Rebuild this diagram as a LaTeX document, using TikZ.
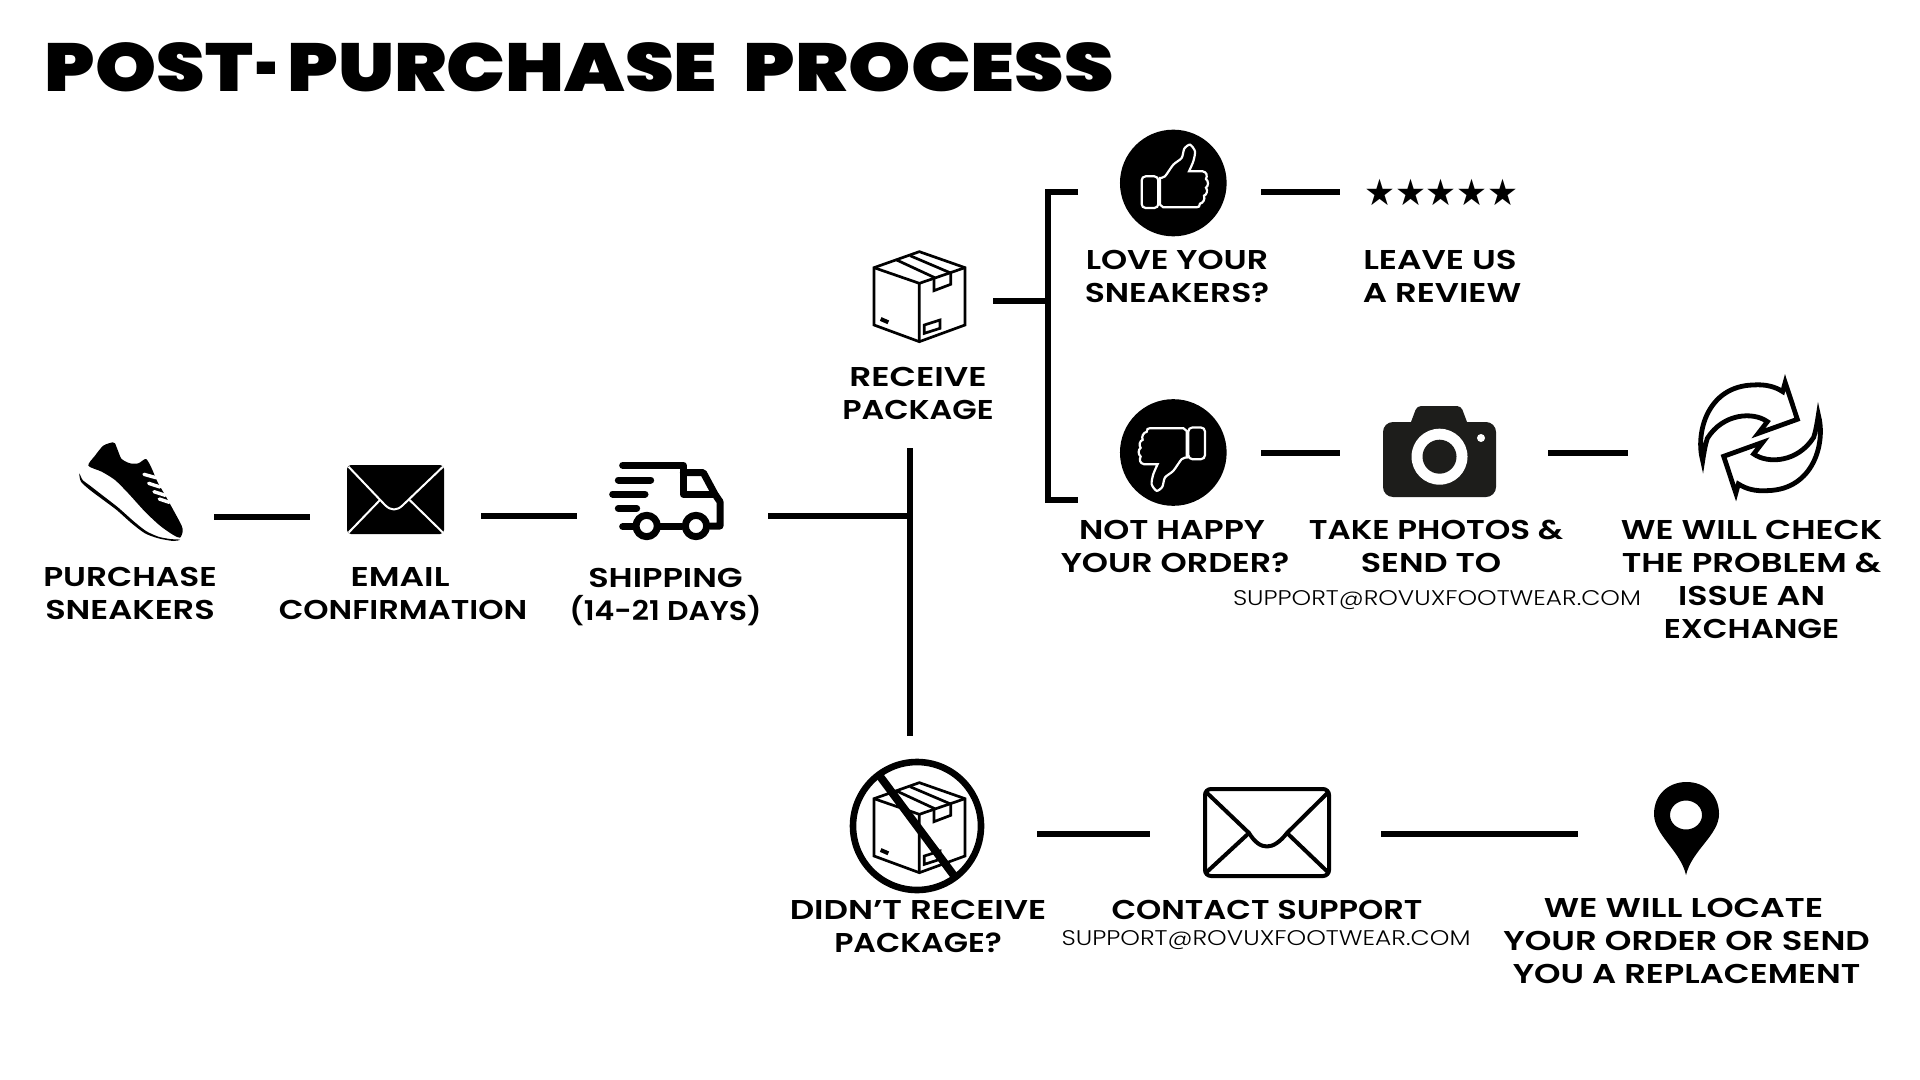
\documentclass[tikz,border=0pt]{standalone}
\usepackage{graphicx}
\usepackage{fontspec}
\setmainfont{Poppins}
\newfontfamily\labf{Poppins SemiBold}
\newfontfamily\thinf{Poppins Light}
\newfontfamily\titlef{Poppins Black}
\newfontfamily\symf{DejaVu Sans}
\definecolor{camink}{HTML}{1D1D1B}
% fit a line of text to a width in reference pixels (horizontal scaling only)
\newcommand\fw[2]{\sbox0{#2}\pgfmathsetmacro\fr{#1*0.5/(\the\wd0)}\scalebox{\fr}[1]{\usebox0}}
% the same for a label line: side bearings are added to the measured ink width
\newcommand\fl[2]{\sbox0{#2}\pgfmathsetmacro\fr{(#1+3.5)*0.5/(\the\wd0)}\scalebox{\fr}[1]{\usebox0}}
\newcommand\thumbshape{%
  \fill[black] (0,0) circle[radius=160];
  \draw[white,line width=1.1pt,rounded corners=2pt,fill=black] (-95,-20) rectangle (-45,75);
  \draw[white,line width=1.1pt,fill=black] plot[smooth,tension=.45] coordinates {(-40,-15) (-25,-20) (0,-55) (25,-75) (33,-103) (50,-115) (65,-95) (60,-65) (47,-35)}
    -- (88,-35) .. controls (100,-33) and (103,-22) .. (98,-12) .. controls (106,-5) and (106,8) .. (98,14) .. controls (104,22) and (101,35) .. (92,38) .. controls (96,48) and (90,60) .. (80,62) .. controls (80,70) and (76,73) .. (70,73) -- (-30,73) -- (-40,65) -- cycle;
}
\newcommand\boxshape{%
  \draw[boxline] (178,20) -- (315,68) -- (315,240) -- (178,290) -- (42,240) -- (42,68) -- cycle;
  \draw[boxline] (42,68) -- (178,115) -- (315,68) (178,115) -- (178,290);
  \draw[boxline] (110,45) -- (222,97) -- (222,137) -- (272,118) -- (272,84) -- (150,32);
  \draw[boxline,line width=2pt] (62,222) -- (85,232);
  \draw[boxline] (193,240) -- (240,225) -- (240,250) -- (193,265) -- cycle;
}
\newcommand\arrowshape{%
  \draw[black,line width=2.4pt,miter limit=8,fill=white] (-173.5,68.5) .. controls (-196,-14) and (-160,-155) .. (-21.5,-158.5)
    .. controls (14,-161) and (43,-154) .. (66.5,-138.5) -- (74,-166) -- (110.5,-55.5) -- (-6.5,-13.5) -- (20.5,-48.5)
    .. controls (-22,-79) and (-112,-74) .. (-159.5,1.5) .. controls (-166,21) and (-170,46) .. (-173.5,68.5) -- cycle;
}
\tikzset{
  x=0.5pt,y=-0.5pt,
  conn/.style={draw=black,line width=3pt},
  lab/.style={font=\labf\fontsize{13.6}{16.5}\selectfont,align=center,inner sep=0pt,anchor=base,text=black},
  thin/.style={font=\thinf\fontsize{10.6}{13}\selectfont,inner sep=0pt,anchor=base,text=black},
  boxline/.style={draw=black,line width=1.35pt,line join=miter},
  truck/.style={draw=black,line width=3.5pt,line cap=round,line join=round},
}
\begin{document}
\begin{tikzpicture}
\useasboundingbox (0,0) rectangle (1920,1080);
\fill[white] (0,0) rectangle (1920,1080);

% title
\node[anchor=base west,inner sep=0pt,font=\titlef\fontsize{34}{40}\selectfont,text=black] (title) at (44.5,91.5) {\fw{208}{POST}\hskip2pt\fw{22.5}{-}\hskip4pt\fw{430}{PURCHASE} \hskip7.5pt\fw{370}{PROCESS}};

% shoe
\begin{scope}[shift={(70,435)},scale=1/3]
\fill[black] plot[smooth cycle,tension=.45] coordinates {(128,22) (100,32) (75,62) (55,92) (95,110) (135,135) (175,175) (225,230) (270,272) (310,300) (330,308) (338,290) (335,272) (310,225) (285,180) (262,140) (245,100) (228,72) (205,85) (180,85) (155,72) (145,50) (135,25)};
\draw[white,line width=1.7pt,line cap=round] (222,118) -- (258,128) (236,145) -- (270,156) (252,170) -- (286,181) (268,192) -- (298,202);
\fill[black] plot[smooth cycle,tension=.45] coordinates {(28,115) (33,140) (60,165) (100,195) (140,225) (185,265) (225,295) (265,310) (310,318) (330,314) (300,312) (265,305) (228,288) (190,258) (145,218) (100,183) (60,152) (38,135)};
\end{scope}

% filled envelope
\fill[black,rounded corners=2pt] (347,465) rectangle (444,534);
\draw[white,line width=1pt,line join=round] (348.5,466.7) -- (385,505) .. controls (391,511) and (397,511) .. (403,505) -- (443,466.7);
\draw[white,line width=1pt] (348.5,532.7) -- (380,500) (443,532.7) -- (409.6,500);

% truck
\begin{scope}[shift={(600,450)},scale=1/3]
\draw[truck] (68,46) -- (250,46) -- (250,133) -- (345,133);
\draw[truck] (250,68) -- (310,68) -- (345,133) -- (360,155) -- (360,228) -- (330,228);
\draw[truck] (55,90) -- (152,90) (38,132) -- (135,132) (55,175) -- (110,175);
\draw[truck] (68,230) -- (100,230) (180,230) -- (245,230);
\draw[truck,fill=white] (140,228) circle[radius=32];
\draw[truck,fill=white] (288,228) circle[radius=32];
\end{scope}

% open box
\begin{scope}[shift={(860,245)},scale=1/3]\boxshape\end{scope}

% thumbs
\begin{scope}[shift={(1173.3,183)},scale=1/3]\thumbshape\end{scope}
\begin{scope}[shift={(1173.3,452.5)},scale=1/3,rotate=180]\thumbshape\end{scope}

% stars
\node[inner sep=0pt,anchor=base,font=\symf\fontsize{18.2}{20}\selectfont,text=black] (stars) at (1441.5,206) {\fw{155}{★★★★★}};

% camera
\fill[camink,rounded corners=5pt] (1383,422) rectangle (1496,497);
\fill[camink,rounded corners=2pt] (1408,430) -- (1417,406) -- (1461,406) -- (1470,430) -- cycle;
\fill[white] (1439.5,456.7) circle[radius=28];
\fill[camink] (1439.5,456.7) circle[radius=17];
\fill[white] (1481,438) circle[radius=4];

% rotating arrows
\begin{scope}[shift={(1760.5,437.8)},scale=1/3]\arrowshape\end{scope}
\begin{scope}[shift={(1760.5,437.8)},scale=1/3,rotate=180]\arrowshape\end{scope}

% crossed box
\draw[black,line width=3.3pt,fill=white] (917,826) circle[radius=64];
\begin{scope}[shift={(860,776)},scale=1/3]\boxshape\end{scope}
\draw[black,line width=4pt] (879,775) -- (955,877);

% outlined envelope
\draw[black,line width=2pt,rounded corners=3pt] (1205,789) rectangle (1329,876);
\draw[black,line width=2pt,line join=round] (1206,792) -- (1249,833) .. controls (1260,851) and (1273,851) .. (1287,833) -- (1328.5,792);
\draw[black,line width=2pt] (1206,872.7) -- (1249,833) (1328.5,872.7) -- (1287,833);

% pin
\fill[black,even odd rule] (1686,875) .. controls (1680,850) and (1654,835) .. (1654,814) .. controls (1654,795) and (1668,782) .. (1686.5,782) .. controls (1705,782) and (1719,795) .. (1719,814) .. controls (1719,835) and (1692,850) .. (1686,875) -- cycle
  (1686,815) ellipse[x radius=16,y radius=14.5];

% labels (anchored at the baseline of their last line)
\node[lab] (purchase) at (130,619) {\fl{170}{PURCHASE}\\\fl{166}{SNEAKERS}};
\node[lab] (email) at (403,619) {\fl{95.5}{EMAIL}\hspace*{3pt}\\\fl{245}{CONFIRMATION}};
\node[lab] (shipping) at (665.5,620) {\fl{151}{SHIPPING}\\\fl{189}{(14-21 DAYS)}};
\node[lab] (receive) at (918,419) {\fl{134}{RECEIVE}\\\fl{148}{PACKAGE}};
\node[lab] (love) at (1177,303) {\fl{179}{LOVE YOUR}\\\fl{181}{SNEAKERS?}};
\node[lab] (leave) at (1442,303) {\fl{150}{LEAVE US}\hspace*{2pt}\\\fl{155}{A REVIEW}};
\node[lab] (nothappy) at (1175,572) {\fl{182.5}{NOT HAPPY}\hspace*{3pt}\\\fl{225}{YOUR ORDER?}};
\node[lab] (photos) at (1436,572) {\fl{251}{TAKE PHOTOS \&}\\\fl{137}{SEND TO}\hspace*{5pt}};
\node[thin] (mail1) at (1437,605.7) {\fw{408}{SUPPORT@ROVUXFOOTWEAR.COM}};
\node[lab] (check) at (1751.5,638) {\fl{258}{WE WILL CHECK}\\\fl{256}{THE PROBLEM \&}\\\fl{143.5}{ISSUE AN}\\\fl{172}{EXCHANGE}};
\node[lab] (didnt) at (918,952) {\fl{253}{DIDN’T RECEIVE}\\\fl{164}{PACKAGE?}};
\node[lab] (contact) at (1267,919) {\fl{307.5}{CONTACT SUPPORT}};
\node[thin] (mail2) at (1266,945) {\fw{409}{SUPPORT@ROVUXFOOTWEAR.COM}};
\node[lab] (locate) at (1686.5,983) {\fl{276}{WE WILL LOCATE}\hspace*{3pt}\\\fl{363}{YOUR ORDER OR SEND}\\\fl{344}{YOU A REPLACEMENT}};

% connector ends
\coordinate (a1) at (214,516.7); \coordinate (a2) at (310,516.7);
\coordinate (b1) at (481,516); \coordinate (b2) at (577,516);
\coordinate (c1) at (768,515.5); \coordinate (c2) at (910,515.5);
\coordinate (d1) at (910,448); \coordinate (d2) at (910,736);
\coordinate (e1) at (993,300.7); \coordinate (e2) at (1048,300.7);
\coordinate (f1) at (1078,192); \coordinate (f2) at (1048,192); \coordinate (f3) at (1048,500); \coordinate (f4) at (1078,500);
\coordinate (g1) at (1261,192); \coordinate (g2) at (1340,192);
\coordinate (h1) at (1261,452.7); \coordinate (h2) at (1340,452.7);
\coordinate (i1) at (1548,452.7); \coordinate (i2) at (1628,452.7);
\coordinate (j1) at (1037,834); \coordinate (j2) at (1150,834);
\coordinate (k1) at (1381,834); \coordinate (k2) at (1578,834);
\draw[conn] (a1) -- (a2);
\draw[conn] (b1) -- (b2);
\draw[conn] (c1) -- (c2);
\draw[conn] (d1) -- (d2);
\draw[conn] (e1) -- (e2);
\draw[conn] (f1) -- (f2) -- (f3) -- (f4);
\draw[conn] (g1) -- (g2);
\draw[conn] (h1) -- (h2);
\draw[conn] (i1) -- (i2);
\draw[conn] (j1) -- (j2);
\draw[conn] (k1) -- (k2);
\end{tikzpicture}
\end{document}
